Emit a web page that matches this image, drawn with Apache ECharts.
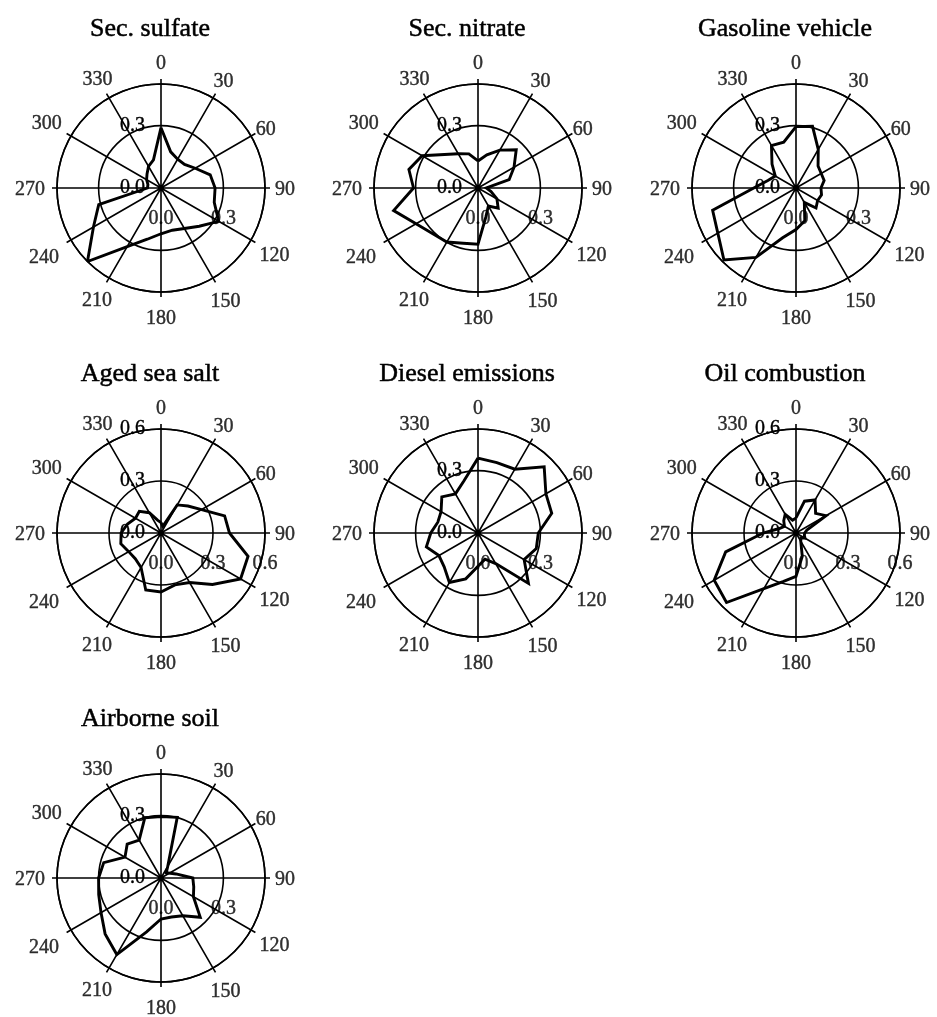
<!DOCTYPE html>
<html>
<head>
<meta charset="utf-8">
<script src="https://cdn.jsdelivr.net/npm/echarts@6/dist/echarts.min.js"></script>
<style>
  html, body { margin: 0; padding: 0; background: #ffffff; }
  #chart { width: 937px; height: 1017px; }
</style>
</head>
<body>
<div id="chart"></div>
<script>
// Wind directions (degrees, clockwise from north) at which CPF values are given
const DIRECTIONS = [0, 15, 30, 45, 60, 75, 90, 105, 120, 135, 150, 165,
                    180, 195, 210, 225, 240, 255, 270, 285, 300, 315, 330, 345];

// Conditional probability function values per source, one per direction
const SEC_SULFATE = [0.29, 0.18, 0.16, 0.16, 0.19, 0.245, 0.26, 0.265, 0.32, 0.26, 0.225, 0.21,
                     0.22, 0.255, 0.325, 0.50, 0.375, 0.31, 0.065, 0.065, 0.08, 0.095, 0.12, 0.14];
const SEC_NITRATE = [0.13, 0.165, 0.21, 0.26, 0.20, 0.155, 0.04, 0.065, 0.105, 0.137, 0.10, 0.145,
                     0.27, 0.275, 0.30, 0.31, 0.344, 0.42, 0.31, 0.344, 0.31, 0.228, 0.19, 0.17];
const GASOLINE    = [0.295, 0.307, 0.214, 0.15, 0.14, 0.14, 0.12, 0.127, 0.12, 0.136, 0.08, 0.163,
                     0.20, 0.248, 0.385, 0.49, 0.434, 0.415, 0.203, 0.14, 0.115, 0.163, 0.236, 0.228];
const SEA_SALT    = [0.06, 0.04, 0.187, 0.22, 0.27, 0.38, 0.395, 0.52, 0.53, 0.42, 0.33, 0.31,
                     0.34, 0.34, 0.23, 0.21, 0.215, 0.24, 0.23, 0.20, 0.17, 0.177, 0.135, 0.077];
const DIESEL      = [0.36, 0.35, 0.354, 0.45, 0.377, 0.367, 0.29, 0.29, 0.256, 0.343, 0.17, 0.13,
                     0.16, 0.228, 0.275, 0.23, 0.217, 0.257, 0.227, 0.20, 0.205, 0.246, 0.217, 0.26];
const OIL         = [0.087, 0.19, 0.22, 0.16, 0.20, 0.065, 0.05, 0.05, 0.06, 0.04, 0.055, 0.14,
                     0.25, 0.29, 0.37, 0.567, 0.545, 0.42, 0.19, 0.10, 0.077, 0.10, 0.125, 0.077];
const SOIL        = [0.295, 0.302, 0.065, 0.036, 0.04, 0.075, 0.153, 0.163, 0.18, 0.267, 0.21, 0.194,
                     0.197, 0.268, 0.425, 0.38, 0.333, 0.31, 0.30, 0.285, 0.20, 0.23, 0.21, 0.30];

const SOURCE_NAMES = ['Sec. sulfate', 'Sec. nitrate', 'Gasoline vehicle',
                      'Aged sea salt', 'Diesel emissions', 'Oil combustion', 'Airborne soil'];
const SOURCE_VALUES = [SEC_SULFATE, SEC_NITRATE, GASOLINE, SEA_SALT, DIESEL, OIL, SOIL];
const RADIAL_MAX = [0.5, 0.5, 0.5, 0.6, 0.5, 0.6, 0.5];
const RADIAL_STEP = 0.3;
const ANGLE_TICKS = [0, 30, 60, 90, 120, 150, 180, 210, 240, 270, 300, 330];

// Panel geometry and styling (pixels)
const COL_X = [161, 478, 796];
const ROW_Y = [188, 533, 878];
const RADIUS = 104;
// distance of each compass label's centre from the panel centre
const COMPASS_LABEL_RING = [126, 125, 121, 124, 131, 129, 129, 128, 135, 131, 132, 127];
const SERIF = "'Liberation Serif', 'Times New Roman', serif";
const INK = '#000000';
const GRID_W = 1.6;
const TEXT_STYLE = { fontSize: 20, fontFamily: SERIF, color: INK, textBorderColor: INK, textBorderWidth: 0.4 };

const chart = echarts.init(document.getElementById('chart'), null, { renderer: 'canvas' });

const polar = [], angleAxis = [], radiusAxis = [], series = [], title = [];

SOURCE_NAMES.forEach((name, i) => {
  const cx = COL_X[i % 3];
  const cy = ROW_Y[Math.floor(i / 3)];
  const max = RADIAL_MAX[i];
  const maxIsTick = Math.abs(max / RADIAL_STEP - Math.round(max / RADIAL_STEP)) < 1e-9;

  polar.push({ center: [cx, cy], radius: RADIUS });

  angleAxis.push({
    polarIndex: i, type: 'value', min: 0, max: 360, interval: 30,
    startAngle: 90, clockwise: true,
    axisLine: { show: true, lineStyle: { color: INK, width: GRID_W } },
    axisTick: { show: true, inside: false, length: 5, lineStyle: { color: INK, width: GRID_W } },
    axisLabel: { show: false },
    splitLine: { show: true, lineStyle: { color: INK, width: GRID_W } }
  });

  radiusAxis.push({
    polarIndex: i, type: 'value', min: 0, max: max, interval: RADIAL_STEP,
    axisLine: { show: false }, axisTick: { show: false },
    splitLine: { show: true, lineStyle: { color: INK, width: GRID_W } },
    axisLabel: Object.assign({
      show: true, margin: 16,
      showMinLabel: true, showMaxLabel: maxIsTick,
      formatter: v => v.toFixed(1)
    }, TEXT_STYLE)
  });

  // CPF polygon, closed back onto its first direction
  const values = SOURCE_VALUES[i];
  const ring = DIRECTIONS.map((d, k) => [values[k], d]);
  ring.push([values[0], DIRECTIONS[0]]);
  series.push({
    type: 'line', coordinateSystem: 'polar', polarIndex: i,
    data: ring, symbol: 'none', smooth: false, clip: false, silent: true, z: 5,
    lineStyle: { color: INK, width: 2.9, join: 'miter' }
  });

  // Compass tick labels around the outer ring
  series.push({
    type: 'scatter', coordinateSystem: 'polar', polarIndex: i,
    data: ANGLE_TICKS.map((a, k) => [max * COMPASS_LABEL_RING[k] / RADIUS, a]),
    symbolSize: 0, clip: false, silent: true,
    itemStyle: { color: 'transparent' },
    label: Object.assign({
      show: true, position: 'inside', offset: [0, 2],
      formatter: p => String(p.value[1])
    }, TEXT_STYLE)
  });

  // Radial scale labels repeated beneath the east spoke
  const radialTicks = [];
  for (let v = 0; v <= max + 1e-9; v += RADIAL_STEP) radialTicks.push(Math.round(v * 10) / 10);
  series.push({
    type: 'scatter', coordinateSystem: 'polar', polarIndex: i,
    data: radialTicks.map(v => [v, 90]),
    symbolSize: 0, clip: false, silent: true,
    itemStyle: { color: 'transparent' },
    label: Object.assign({
      show: true, position: 'inside', offset: [0, 31],
      formatter: p => p.value[0].toFixed(1)
    }, TEXT_STYLE)
  });

  title.push({
    text: name, left: cx - 11, top: cy - 172, textAlign: 'center', padding: 0,
    textStyle: { fontFamily: SERIF, fontSize: 26, fontWeight: 'normal', color: INK,
                 textBorderColor: INK, textBorderWidth: 0.5 }
  });
});

chart.setOption({
  backgroundColor: '#ffffff',
  animation: false,
  title, polar, angleAxis, radiusAxis, series
});
</script>
</body>
</html>
